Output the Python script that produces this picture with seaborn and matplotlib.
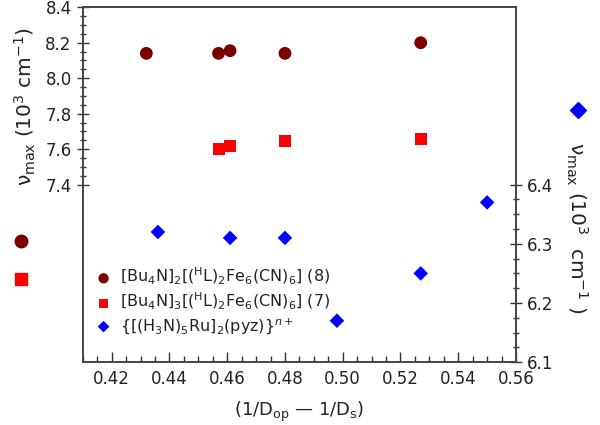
import matplotlib
matplotlib.use("Agg")
import matplotlib.pyplot as plt
import seaborn as sns
import pandas as pd
import numpy as np
from matplotlib.lines import Line2D
from matplotlib.ticker import MultipleLocator, FixedLocator

sns.set_style("ticks")
plt.rcParams['font.family'] = ['DejaVu Sans']
plt.rcParams['mathtext.fontset'] = 'dejavusans'

# Data
x_fe8 = [0.432, 0.457, 0.461, 0.480, 0.527]
y_fe8 = [8.14, 8.14, 8.155, 8.14, 8.20]
x_fe7 = [0.457, 0.461, 0.480, 0.527]
y_fe7 = [7.60, 7.62, 7.645, 7.655]
x_ru = [0.436, 0.461, 0.480, 0.498, 0.527, 0.550]
y_ru = [6.32, 6.31, 6.31, 6.17, 6.25, 6.37]

labels = [r'[Bu$_4$N]$_2$[($^{\mathrm{H}}$L)$_2$Fe$_6$(CN)$_6$] (8)',
          r'[Bu$_4$N]$_3$[($^{\mathrm{H}}$L)$_2$Fe$_6$(CN)$_6$] (7)',
          r'{[(H$_3$N)$_5$Ru]$_2$(pyz)}$^{n+}$']
c_fe8, c_fe7, c_ru = '#7a0000', '#ff0000', '#0000ff'

fig = plt.figure(figsize=(6, 4.25), dpi=100)
ax = fig.add_axes([0.138, 0.148, 0.722, 0.835])
ax2 = ax.twinx()

sns.scatterplot(x=x_fe8, y=y_fe8, ax=ax, marker='o', s=85, color=c_fe8,
                edgecolor='none', label=labels[0])
sns.scatterplot(x=x_fe7, y=y_fe7, ax=ax, marker='s', s=75, color=c_fe7,
                edgecolor='none', label=labels[1])
sns.scatterplot(x=x_ru, y=y_ru, ax=ax2, marker='D', s=55, color=c_ru,
                edgecolor='none', label=labels[2])

ax.set_xlim(0.41, 0.56)
ax.set_ylim(6.4, 8.4)
ax2.set_ylim(6.1, 6.7)

ax.xaxis.set_minor_locator(MultipleLocator(0.005))
ax.set_xticks(np.arange(0.42, 0.561, 0.02))
ax.set_xticklabels([f'{v:.2f}' for v in np.arange(0.42, 0.561, 0.02)])

ax.yaxis.set_major_locator(FixedLocator([7.4, 7.6, 7.8, 8.0, 8.2, 8.4]))
ax.yaxis.set_minor_locator(FixedLocator(list(np.arange(7.4, 8.41, 0.05))))
ax.set_yticklabels(['7.4', '7.6', '7.8', '8.0', '8.2', '8.4'])
ax2.yaxis.set_major_locator(FixedLocator([6.1, 6.2, 6.3, 6.4]))
ax2.yaxis.set_minor_locator(FixedLocator(list(np.arange(6.1, 6.401, 0.025))))
ax2.set_yticklabels(['6.1', '6.2', '6.3', '6.4'])

tc = '#333333'
ax.tick_params(axis='x', which='major', direction='in', length=7, width=1, labelsize=12, color=tc, labelcolor='#222222', pad=6)
ax.tick_params(axis='x', which='minor', direction='in', length=4, width=1, color=tc)
ax.tick_params(axis='y', which='major', direction='inout', length=9, width=1, labelsize=12, color=tc, labelcolor='#222222')
ax.tick_params(axis='y', which='minor', direction='inout', length=5, width=1, color=tc)
ax2.tick_params(axis='y', which='major', direction='inout', length=9, width=1, labelsize=12, color=tc, labelcolor='#222222')
ax2.tick_params(axis='y', which='minor', direction='inout', length=5, width=1, color=tc)

for a in (ax, ax2):
    for sp in a.spines.values():
        sp.set_visible(True)
        sp.set_color('#444444')
        sp.set_linewidth(1.2)

ax.set_ylabel('')
ax2.set_ylabel('')
ax.set_xlabel(r'(1/D$_{\mathrm{op}}$ — 1/D$_{\mathrm{s}}$)', fontsize=13, labelpad=8, color='#222222')

ylab_l = r'ν$_{\mathrm{max}}$ (10$^{3}$ cm$^{-1}$)'
ylab_r = r'ν$_{\mathrm{max}}$ (10$^{3}$  cm$^{-1}$ )'
fig.text(25/600, 1-107/425, ylab_l, rotation=90, ha='center', va='center', fontsize=14.5, color='#222222')
fig.text(577/600, 1-228/425, ylab_r, rotation=270, ha='center', va='center', fontsize=14.5, color='#222222')

# series key markers beside axis labels
fig.add_artist(Line2D([21/600], [1-241/425], marker='o', markersize=9, color=c_fe8,
                      linestyle='none', transform=fig.transFigure))
fig.add_artist(Line2D([21/600], [1-279/425], marker='s', markersize=9, color=c_fe7,
                      linestyle='none', transform=fig.transFigure))
fig.add_artist(Line2D([578/600], [1-110/425], marker='D', markersize=8, color=c_ru,
                      linestyle='none', transform=fig.transFigure))

h1, l1 = ax.get_legend_handles_labels()
h2, l2 = ax2.get_legend_handles_labels()
if ax.get_legend():
    ax.get_legend().remove()
if ax2.get_legend():
    ax2.get_legend().remove()
leg = ax2.legend(h1 + h2, l1 + l2, loc='lower left', bbox_to_anchor=(0.0, 0.042),
                 frameon=False, fontsize=11.5, handletextpad=0.4, labelspacing=0.25,
                 handlelength=1.2, markerscale=0.8, borderaxespad=0.3)
for t in leg.get_texts():
    t.set_color('#222222')

fig.savefig('out.png', dpi=100)
